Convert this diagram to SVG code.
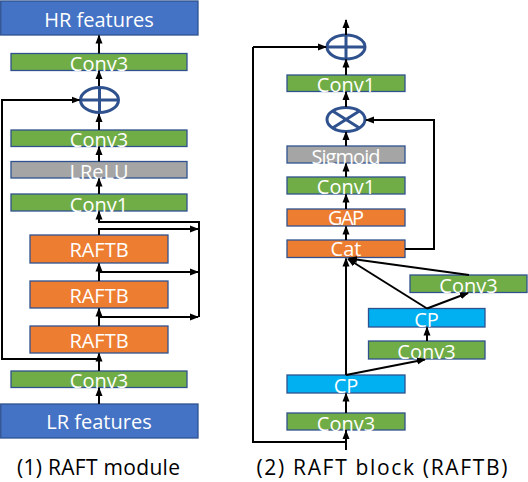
<svg xmlns="http://www.w3.org/2000/svg" width="528" height="482" viewBox="0 0 528 482">
<defs>
<marker id="ah" markerUnits="userSpaceOnUse" markerWidth="10" markerHeight="8" refX="8" refY="4" orient="auto">
<path d="M0,0.5 L9,4 L0,7.5 z" fill="#000"/>
</marker>
<style>
.box{stroke:#2F528F;stroke-width:1.3}
.feat{fill:#4472C4}
.green{fill:#70AD47}
.gray{fill:#A5A5A5}
.orange{fill:#ED7D31}
.cyan{fill:#00B0F0}
.t{font-family:"Open Sans","Noto Sans",sans-serif;font-size:20px;fill:#fff;text-anchor:middle}
.cap{font-family:"Open Sans","Noto Sans",sans-serif;font-size:21px;fill:#000;text-anchor:middle}
.op{fill:#fff;stroke:#2F528F;stroke-width:3}
.c{fill:none;stroke:#000;stroke-width:2}
.a{fill:none;stroke:#000;stroke-width:2;marker-end:url(#ah)}
</style>
</defs>
<rect width="528" height="482" fill="#fff"/>

<!-- Left: RAFT module -->
<g id="hr"><rect class="box feat" x="0.7" y="1" width="197.3" height="34"/><text class="t" x="99" y="26.5">HR features</text></g>
<g id="l_conv3_top"><rect class="box green" x="11" y="53.5" width="176" height="17"/><text class="t" x="99" y="71">Conv3</text></g>
<g id="l_plus"><ellipse class="op" cx="99.5" cy="100" rx="19" ry="12.5"/><path d="M80.5,100 H118.5 M99.5,87.5 V112.5" stroke="#2F528F" stroke-width="3"/></g>
<g id="l_conv3_mid"><rect class="box green" x="11" y="130" width="176" height="16.5"/><text class="t" x="99" y="147">Conv3</text></g>
<g id="l_lrelu"><rect class="box gray" x="11" y="161.5" width="176" height="16.5"/><text class="t" x="99" y="178.5">LReLU</text></g>
<g id="l_conv1"><rect class="box green" x="11" y="194" width="176" height="17"/><text class="t" x="99" y="211.5">Conv1</text></g>
<g id="l_raftb1"><rect class="box orange" x="30" y="235" width="138" height="28"/><text class="t" x="99" y="257">RAFTB</text></g>
<g id="l_raftb2"><rect class="box orange" x="30" y="281" width="138" height="27"/><text class="t" x="99" y="302.5">RAFTB</text></g>
<g id="l_raftb3"><rect class="box orange" x="30" y="326" width="138" height="27"/><text class="t" x="99" y="347.5">RAFTB</text></g>
<g id="l_conv3_bot"><rect class="box green" x="11" y="371" width="176" height="16.5"/><text class="t" x="99" y="388">Conv3</text></g>
<g id="lr"><rect class="box feat" x="0.7" y="404" width="197.3" height="34"/><text class="t" x="99" y="428.5">LR features</text></g>
<text class="cap" x="98.5" y="475" textLength="163">(1) RAFT module</text>

<!-- Right: RAFT block -->
<g id="r_plus"><ellipse class="op" cx="346" cy="47" rx="19" ry="12"/><path d="M327,47 H365 M346,35 V59" stroke="#2F528F" stroke-width="3"/></g>
<g id="r_conv1_top"><rect class="box green" x="287" y="75" width="118" height="16.5"/><text class="t" x="346" y="92">Conv1</text></g>
<g id="r_mul"><ellipse class="op" cx="346" cy="119.5" rx="19" ry="12"/><path d="M332.6,111 L359.4,128 M332.6,128 L359.4,111" stroke="#2F528F" stroke-width="3"/></g>
<g id="r_sigmoid"><rect class="box gray" x="287" y="146" width="118" height="17"/><text class="t" x="346" y="163.5" textLength="69">Sigmoid</text></g>
<g id="r_conv1"><rect class="box green" x="287" y="177" width="118" height="17"/><text class="t" x="346" y="194">Conv1</text></g>
<g id="r_gap"><rect class="box orange" x="287" y="209" width="118" height="17"/><text class="t" x="346" y="225" textLength="36">GAP</text></g>
<g id="r_cat"><rect class="box orange" x="287" y="240" width="118" height="17.5"/><text class="t" x="346" y="256">Cat</text></g>
<g id="r_conv3_right"><rect class="box green" x="410" y="275" width="117" height="17.5"/><text class="t" x="468.5" y="292.5">Conv3</text></g>
<g id="r_cp2"><rect class="box cyan" x="368.5" y="308.5" width="116.5" height="18.5"/><text class="t" x="426.5" y="326.5">CP</text></g>
<g id="r_conv3_mid"><rect class="box green" x="368.5" y="341" width="116.5" height="18"/><text class="t" x="426.5" y="359">Conv3</text></g>
<g id="r_cp1"><rect class="box cyan" x="287" y="375" width="118" height="18"/><text class="t" x="346" y="393">CP</text></g>
<g id="r_conv3_bot"><rect class="box green" x="287" y="413" width="118" height="17"/><text class="t" x="346" y="430.5">Conv3</text></g>
<text class="cap" x="382" y="475" textLength="251">(2) RAFT block (RAFTB)</text>

<g id="connectors">
<!-- left -->
<line class="a" x1="99" y1="53.5" x2="99" y2="35.5"/>
<line class="a" x1="99" y1="86" x2="99" y2="71"/>
<line class="a" x1="99" y1="130" x2="99" y2="114"/>
<line class="a" x1="99" y1="161.5" x2="99" y2="147"/>
<line class="a" x1="99" y1="194" x2="99" y2="178.5"/>
<polyline class="a" points="199,317 199,222 99,222 99,211.5"/>
<polyline class="a" points="99,235 99,229 198,229"/>
<line class="a" x1="99" y1="281" x2="99" y2="263.5"/>
<polyline class="a" points="99,272 198,272"/>
<line class="a" x1="99" y1="326" x2="99" y2="308.5"/>
<polyline class="a" points="99,317 198,317"/>
<line class="a" x1="99" y1="371" x2="99" y2="353.5"/>
<polyline class="a" points="99,359 2,359 2,100 79.5,100"/>
<line class="a" x1="99" y1="404" x2="99" y2="388"/>
<!-- right -->
<line class="a" x1="346" y1="35" x2="346" y2="20"/>
<line class="a" x1="346" y1="75" x2="346" y2="59.5"/>
<line class="a" x1="346" y1="107" x2="346" y2="92"/>
<line class="a" x1="346" y1="146" x2="346" y2="132"/>
<line class="a" x1="346" y1="177" x2="346" y2="163.5"/>
<line class="a" x1="346" y1="209" x2="346" y2="194.5"/>
<line class="a" x1="346" y1="240" x2="346" y2="226.5"/>
<polyline class="a" points="405,249 434,249 434,120 366,120"/>
<line class="a" x1="346" y1="375" x2="346" y2="258.5"/>
<line class="a" x1="346" y1="375" x2="425" y2="359.5"/>
<line class="a" x1="427" y1="341" x2="427" y2="327.5"/>
<line class="a" x1="427" y1="308.5" x2="348" y2="259"/>
<line class="a" x1="427" y1="308.5" x2="468" y2="293"/>
<line class="a" x1="469" y1="275" x2="349" y2="258.5"/>
<line class="a" x1="346" y1="413" x2="346" y2="393.5"/>
<polyline class="c" points="346,442 253,442 253,47"/>
<line class="a" x1="253" y1="47" x2="326" y2="47"/>
<line class="c" x1="346" y1="450" x2="346" y2="430"/>
<line class="a" x1="346" y1="442" x2="346" y2="431"/>
</g>
</svg>
